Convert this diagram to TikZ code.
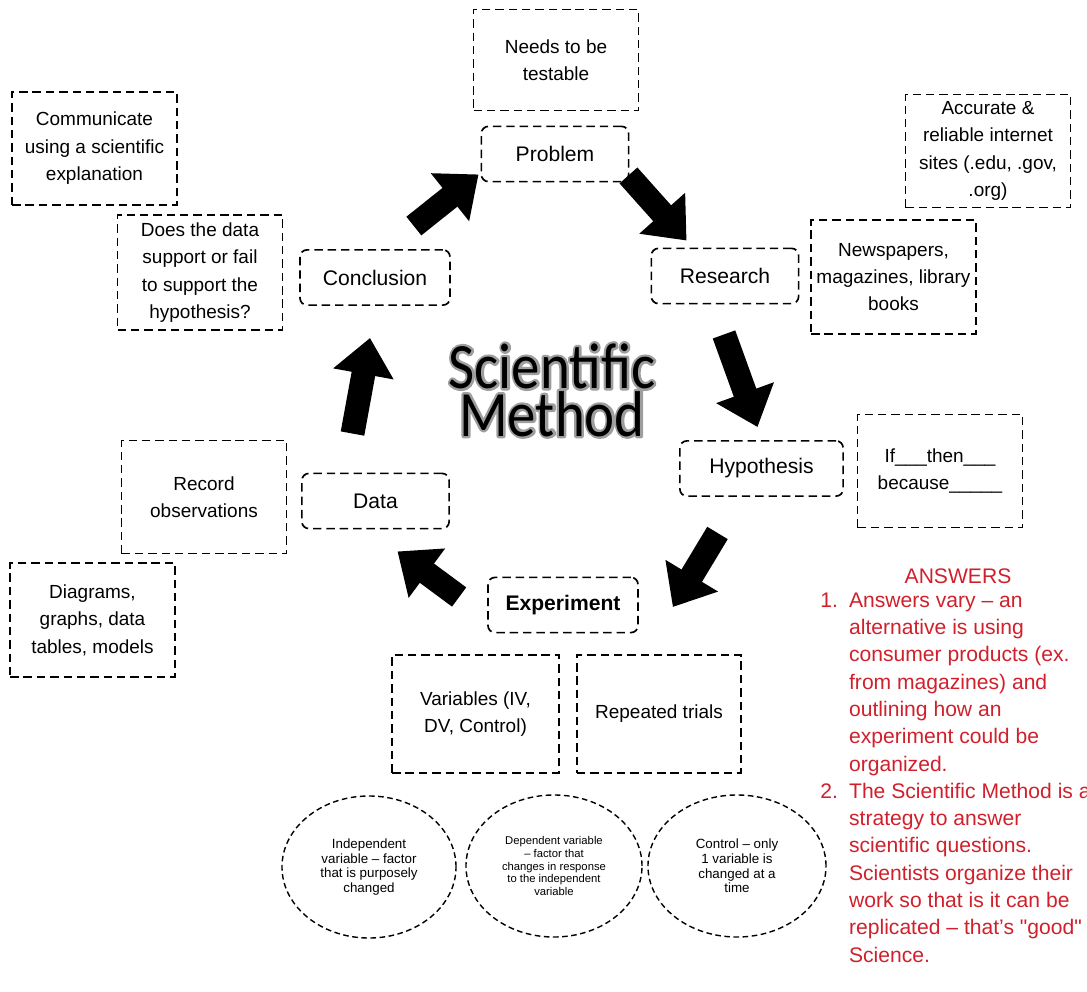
\documentclass[tikz,border=0pt]{standalone}
\usepackage{fontspec}
\setmainfont{Liberation Sans}
\newfontfamily\titlefont{Carlito}[FakeStretch=0.88]
\newfontfamily\quotefont{Liberation Sans}[Ligatures=TeXOff]
\usepackage{xcolor}
\usepackage{tikz}
\usetikzlibrary{arrows.meta,shapes.geometric}
\definecolor{ansRed}{HTML}{D0202C}
% outlined text for the halo of the title
\newcommand{\haloon}{\special{pdf:literal direct 1 Tr 3.4 w 1 j 0.62 G}}
\newcommand{\halooff}{\special{pdf:literal direct 0 Tr 0 G}}

\begin{document}
\begin{tikzpicture}[x=0.025cm, y=-0.025cm,
  stepbox/.style={draw, dash pattern=on 6pt off 3.5pt, line width=1.2pt, rounded corners=5pt,
    minimum width=3.68cm, minimum height=1.38cm, font=\fontsize{15}{17}\selectfont},
  infobox/.style={draw, dash pattern=on 6pt off 3.5pt, line width=1.2pt, align=center,
    minimum width=4.12cm, minimum height=2.83cm, font=\fontsize{13.5}{19.5}\selectfont},
  oval/.style={ellipse, draw, dash pattern=on 4pt off 2.5pt, line width=1pt, align=center, inner sep=0pt,
    minimum width=4.35cm, minimum height=3.55cm, font=\fontsize{9.5}{10.5}\selectfont},
  bigarrow/.style={line width=17pt, -{Triangle[length=26pt,width=42pt]}},
  title/.style={align=center, inner sep=0pt, font=\titlefont\fontsize{46}{34}\selectfont}]
\useasboundingbox (0,0) rectangle (1087,992);
% the six steps round the circle
\node[stepbox] (problem) at (555,154) {Problem};
\node[stepbox] (research) at (725,276) {Research};
\node[stepbox, minimum width=4.08cm] (hypothesis) at (761.5,468.5) {Hypothesis};
\node[stepbox, minimum width=3.75cm, font=\fontsize{15}{17}\selectfont\bfseries] (experiment) at (563,605) {Experiment};
\node[stepbox] (data) at (375.5,501) {Data};
\node[stepbox, minimum width=3.75cm] (conclusion) at (375,277.5) {Conclusion};
% notes beside the steps
\node[infobox, minimum height=2.53cm] (needs) at (556,60) {Needs to be\\testable};
\node[infobox] (communicate) at (94.5,148.5) {Communicate\\using a scientific\\explanation};
\node[infobox, minimum height=2.88cm] (doesdata) at (200,272.5) {Does the data\\support or fail\\to support the\\hypothesis?};
\node[infobox] (accurate) at (988,151) {Accurate \&\\reliable internet\\sites (.edu, .gov,\\.org)};
\node[infobox, minimum height=2.85cm] (newspapers) at (893.5,277) {Newspapers,\\magazines, library\\books};
\node[infobox] (ifthen) at (940,471) {If\_\_\_then\_\_\_\\because\_\_\_\_\_};
\node[infobox] (record) at (204,497) {Record\\observations};
\node[infobox, minimum height=2.85cm] (diagrams) at (92.5,620) {Diagrams,\\graphs, data\\tables, models};
\node[infobox, minimum width=4.17cm, minimum height=2.95cm] (variables) at (475.5,714) {Variables (IV,\\DV, Control)};
\node[infobox, minimum width=4.1cm, minimum height=2.95cm] (repeated) at (659,714) {Repeated trials};
% kinds of variable
\node[oval] (independent) at (369,867) {Independent\\variable -- factor\\that is purposely\\changed};
\node[oval, minimum width=4.4cm, font=\fontsize{8}{9}\selectfont] (dependent) at (554,866) {Dependent variable\\-- factor that\\changes in response\\to the independent\\variable};
\node[oval, minimum width=4.45cm] (control) at (737,866) {Control -- only\\1 variable is\\changed at a\\time};
% centre title with a grey halo
\node[title] (halo) at (552,390) {\haloon Scientific\\Method\halooff};
\node[title] (scimethod) at (552,390) {Scientific\\Method};
% block arrows, clockwise
\draw[bigarrow] ([shift={(-37,-23)}]conclusion.north east) -- ([shift={(-2,-8)}]problem.south west);
\draw[bigarrow] ([shift={(-1,-7)}]problem.south east) -- ([shift={(36,-7)}]research.north west);
\draw[bigarrow] ([shift={(-1,30)}]research.south) -- ([shift={(-4,-13)}]hypothesis.north);
\draw[bigarrow] ([shift={(-44,36)}]hypothesis.south) -- ([shift={(34,2)}]experiment.east);
\draw[bigarrow] ([shift={(-28,-8)}]experiment.west) -- ([shift={(22,22)}]data.south);
\draw[bigarrow] ([shift={(-23,-39)}]data.north) -- ([shift={(-5,32)}]conclusion.south);
% answers in red
\node[text=ansRed, font=\fontsize{15}{19.4}\selectfont] (anshead) at (958,576) {ANSWERS};
\node[text=ansRed, anchor=north west, inner sep=0pt, font=\fontsize{15}{19.4}\selectfont] (answers) at (820,588)
  {\begin{tabular}{@{}l@{\hspace{8pt}}l@{}}
   1. & Answers vary -- an\\
      & alternative is using\\
      & consumer products (ex.\\
      & from magazines) and\\
      & outlining how an\\
      & experiment could be\\
      & organized.\\
   2. & The Scientific Method is a\\
      & strategy to answer\\
      & scientific questions.\\
      & Scientists organize their\\
      & work so that is it can be\\
      & replicated -- that's {\quotefont"}good{\quotefont"}\\
      & Science.
  \end{tabular}};
\end{tikzpicture}
\end{document}
